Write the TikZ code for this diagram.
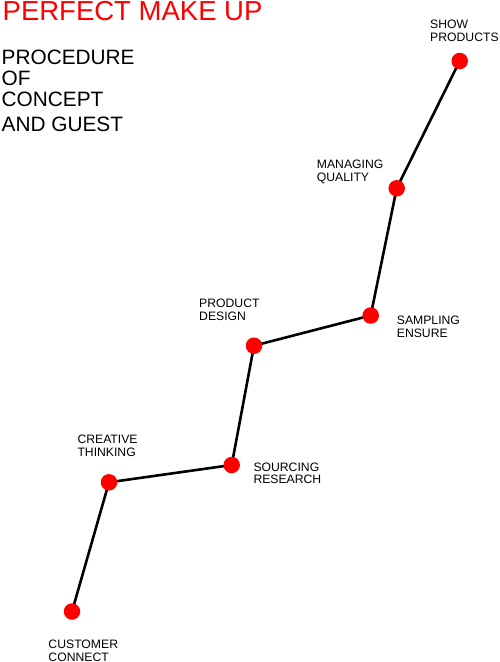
\documentclass[tikz,border=0pt]{standalone}
\usepackage{fontspec}
\setmainfont{Liberation Sans}
\definecolor{dotred}{RGB}{255,0,0}
\tikzset{
  dot/.style={circle,fill=dotred,draw=none,minimum size=16.5pt,inner sep=0pt},
  conn/.style={line width=2.6pt,black},
  lbl/.style={anchor=north west,inner sep=0pt,align=left,font=\fontsize{12.2}{12.4}\selectfont},
  head/.style={anchor=base west,inner sep=0pt,font=\fontsize{20.8}{21}\selectfont}
}
\begin{document}
\begin{tikzpicture}[x=1pt,y=-1pt]
\useasboundingbox (0,0) rectangle (499,662);
% title
\node[anchor=base west,inner sep=0pt,text=dotred,font=\fontsize{27.5}{27.5}\selectfont] (title) at (2.5,20) {PERFECT MAKE UP};
\node[head] (s1) at (1.5,64) {PROCEDURE};
\node[head] (s2) at (1.5,85) {OF};
\node[head] (s3) at (1.5,106.7) {CONCEPT};
\node[head] (s4) at (1.5,131.7) {AND GUEST};
% points
\coordinate (p1) at (72,611.5);
\coordinate (p2) at (109,482.3);
\coordinate (p3) at (231.7,465);
\coordinate (p4) at (254,345.7);
\coordinate (p5) at (370.7,315.5);
\coordinate (p6) at (396.7,188.3);
\coordinate (p7) at (459.7,61);
\draw[conn] (p1) -- (p2) -- (p3) -- (p4) -- (p5) -- (p6) -- (p7);
\node[dot] (d1) at (p1) {};
\node[dot] (d2) at (p2) {};
\node[dot] (d3) at (p3) {};
\node[dot] (d4) at (p4) {};
\node[dot] (d5) at (p5) {};
\node[dot] (d6) at (p6) {};
\node[dot] (d7) at (p7) {};
% labels
\node[lbl] (l1) at (48.3,640) {CUSTOMER\\CONNECT};
\node[lbl] (l2) at (77.3,435) {CREATIVE\\THINKING};
\node[lbl] (l3) at (253.3,462.7) {SOURCING\\RESEARCH};
\node[lbl] (l4) at (199,299) {PRODUCT\\DESIGN};
\node[lbl] (l5) at (396.7,316) {SAMPLING\\ENSURE};
\node[lbl] (l6) at (316.7,160) {MANAGING\\QUALITY};
\node[lbl] (l7) at (430,20) {SHOW\\PRODUCTS};
\end{tikzpicture}
\end{document}
